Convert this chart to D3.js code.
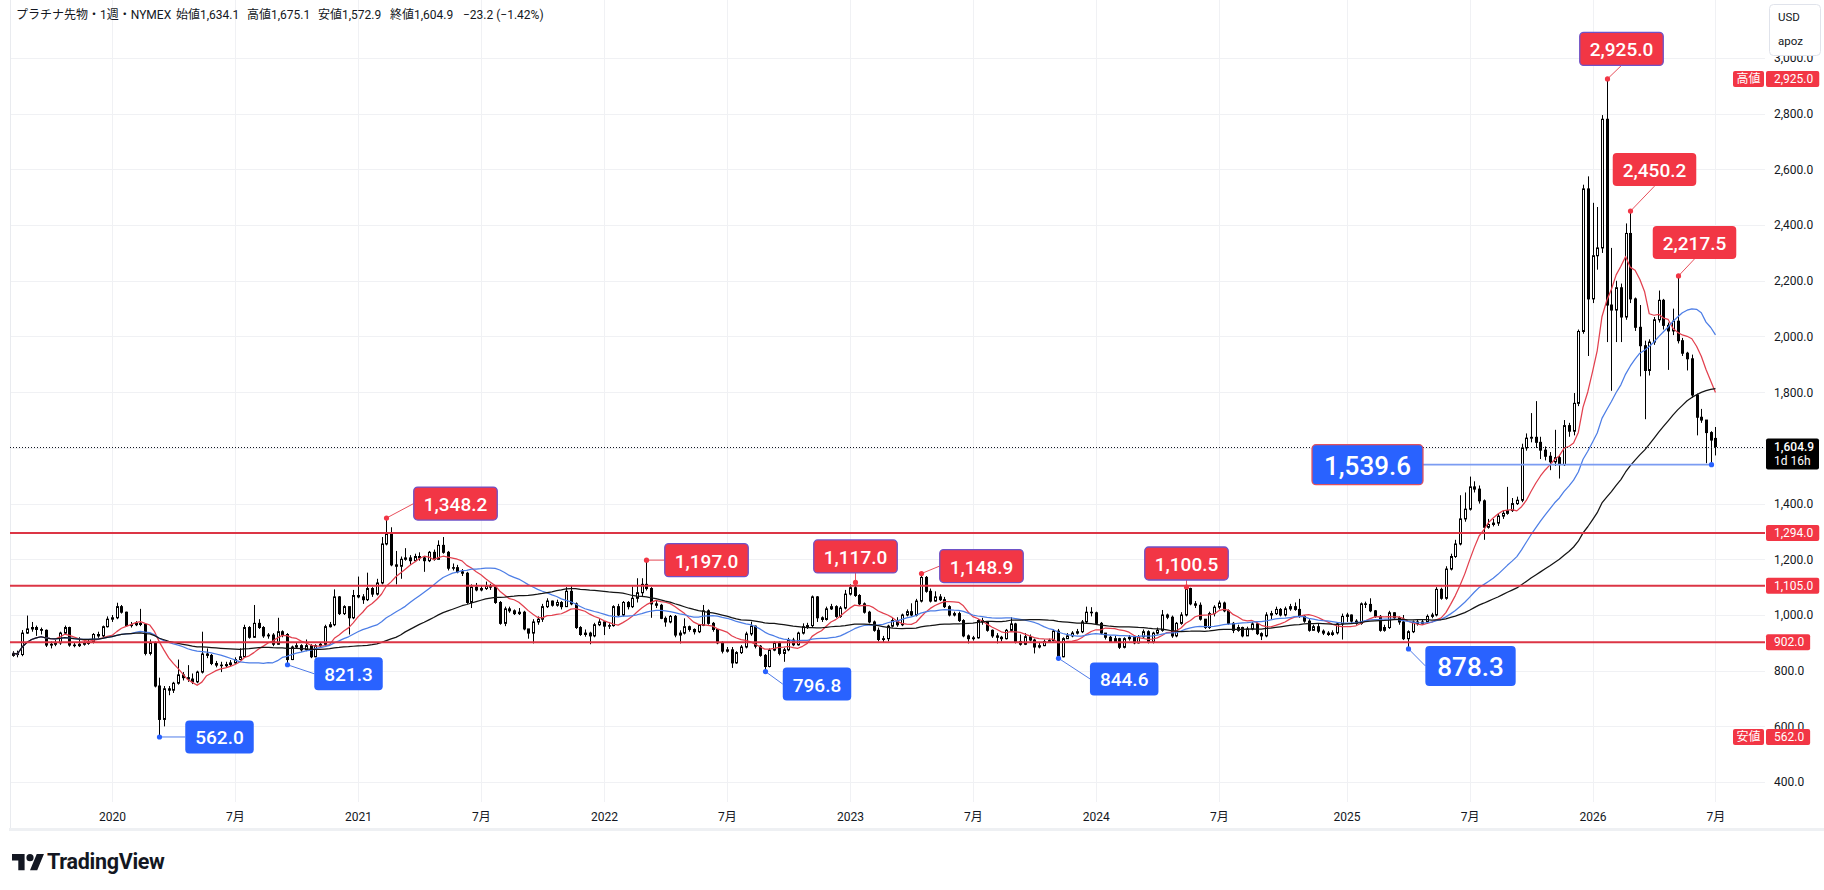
<!DOCTYPE html>
<html lang="ja"><head><meta charset="utf-8"><title>プラチナ先物</title>
<script src="https://cdn.jsdelivr.net/npm/d3@7/dist/d3.min.js"></script>
<style>
html,body{margin:0;padding:0;background:#ffffff;overflow:hidden;}
svg{display:block;font-family:Roboto,"Noto Sans CJK JP","Noto Sans",sans-serif;}
</style></head><body>
<svg id="chart" width="1824" height="890"></svg>
<script>
// ---------------- data (weekly bars, first bar week of 2019-08-12) ----------------
const firstBarDate = "2019-08-12";
const titleText = "プラチナ先物・1週・NYMEX";
const closes = [862,858,935,950,955,948,945,892,895,900,935,955,892,890,895,898,902,930,925,958,985,
 990,1030,1010,962,965,970,966,862,900,745,
 625,735,730,755,785,775,770,760,795,860,
 855,826,820,818,822,828,840,850,955,920,
 970,955,925,928,895,940,930,840,885,890,
 875,890,850,890,895,958,965,1065,1005,1030,
 990,1070,1065,1055,1095,1075,1115,1255,1290,1180,
 1175,1200,1205,1195,1210,1205,1195,1225,1200,1250,
 1225,1168,1170,1155,1150,1045,1100,1090,1095,1105,
 1100,1045,970,1022,1015,1005,1010,950,935,975,
 985,1030,1050,1035,1045,1030,1085,1040,955,930,
 935,925,965,975,960,962,1030,1000,1045,1030,
 1060,1080,1110,1095,1040,1035,988,975,995,928,
 935,958,948,940,963,1015,970,948,900,870,
 875,828,865,885,932,960,888,855,815,874,
 898,862,875,910,893,935,958,962,1065,990,
 984,1022,1030,995,1025,1075,1098,1070,1040,1010,
 975,945,912,915,960,980,965,1000,1012,1000,
 1050,1135,1085,1050,1065,1055,1030,1000,1005,980,
 925,915,918,980,975,945,925,920,915,945,
 968,905,895,922,910,885,890,905,908,942,
 850,915,925,935,940,975,1010,1008,970,935,
 920,905,915,884,915,920,900,922,940,902,
 935,945,1000,992,925,970,1000,1095,1040,1035,
 985,955,1005,1028,1043,1015,970,945,955,925,
 950,968,933,925,1000,1005,1020,1000,1022,1030,
 1020,995,978,945,958,942,935,930,936,968,
 995,1000,978,970,1040,1038,1015,995,945,955,
 1008,990,975,915,940,975,970,975,995,1000,
 1092,1060,1165,1210,1255,1345,1380,1460,1452,1410,
 1315,1325,1330,1355,1365,1375,1400,1412,1600,1635,
 1638,1620,1592,1570,1550,1565,1540,1680,1660,1760,
 2018,2530,2135,2290,2318,2780,2113,2095,2175,2070,
 2370,2135,2033,1967,1878,1980,2060,2130,2040,2020,
 2055,1985,1940,1920,1790,1710,1700,1655,1628.1,1604.9];
const highs = [870,872,946,998,975,962,955,948,905,910,940,962,958,900,920,905,910,935,940,962,995,
 1000,1044,1036,1012,975,978,1022,970,912,905,
 775,745,745,760,840,795,820,790,800,940,
 880,860,835,832,832,838,848,880,965,960,
 1036,985,960,935,935,990,945,935,890,900,
 895,912,895,895,900,965,975,1092,1068,1035,
 1030,1090,1138,1075,1152,1100,1130,1280,1348.2,1315,
 1230,1210,1240,1215,1220,1225,1210,1230,1235,1268,
 1280,1230,1185,1180,1165,1155,1110,1115,1105,1120,
 1112,1100,1050,1030,1030,1020,1025,1015,950,985,
 995,1040,1060,1052,1055,1050,1100,1105,1045,960,
 948,940,972,985,978,970,1035,1040,1050,1050,
 1102,1132,1132,1197,1100,1050,1040,995,1000,1000,
 945,988,962,952,968,1036,1020,975,950,905,
 885,885,870,892,940,976,962,892,860,880,
 905,905,882,918,918,940,970,972,1070,1068,
 995,1030,1040,1035,1032,1090,1110,1117,1075,1045,
 1015,980,955,925,965,990,992,1005,1020,1042,
 1058,1148.9,1140,1095,1085,1075,1065,1035,1012,1012,
 985,930,925,985,990,978,948,935,925,950,
 992,972,930,935,930,915,900,912,915,948,
 950,920,935,942,950,982,1030,1028,1012,975,
 935,925,925,918,920,928,922,928,948,945,
 940,955,1018,1005,998,975,1010,1100.5,1098,1050,
 1045,985,1012,1035,1052,1048,1020,975,965,958,
 958,975,972,938,1010,1015,1030,1025,1030,1040,
 1045,1058,1000,985,965,968,948,942,945,975,
 1005,1008,1002,985,1045,1048,1060,1018,1000,965,
 1015,1010,995,1000,945,980,985,982,1002,1008,
 1100,1098,1175,1220,1270,1430,1440,1497,1480,1465,
 1415,1345,1345,1365,1375,1460,1420,1425,1615,1652,
 1725,1768,1640,1605,1585,1665,1575,1700,1690,1797,
 2025,2545,2575,2480,2465,2795,2925,2318,2200,2190,
 2406,2450.2,2140,2113,1985,1990,2070,2165,2135,2050,
 2100,2217.5,1995,1945,1935,1795,1740,1700,1660,1675.1];
const lows = [850,848,852,932,940,925,930,885,880,888,893,930,886,884,885,890,893,898,918,920,955,
 975,985,1005,958,955,960,960,855,855,740,
 562,600,712,720,750,765,760,752,755,790,
 845,820,812,795,812,815,825,838,848,915,
 918,950,918,915,888,893,920,821.3,838,880,
 868,870,845,848,885,890,955,960,1000,1000,
 930,985,1060,1040,1050,1065,1070,1110,1250,1175,
 1110,1130,1195,1180,1190,1195,1155,1190,1195,1200,
 1220,1160,1160,1150,1140,1040,1025,1085,1085,1090,
 1090,1040,965,960,1008,1000,1000,945,915,898,
 965,975,1025,1030,1030,1020,1030,1035,950,925,
 922,895,920,960,928,950,958,995,995,1020,
 1025,1045,1065,1088,990,1025,985,958,970,920,
 898,930,940,930,935,960,965,940,895,862,
 865,810,825,860,880,925,880,850,796.8,812,
 870,855,832,870,888,890,930,950,955,975,
 975,980,1018,990,990,1020,1070,1065,1035,1005,
 970,940,905,902,905,955,958,960,995,995,
 995,1045,1080,1045,1048,1050,1025,995,995,975,
 920,898,908,915,965,940,918,898,905,912,
 940,898,890,892,905,862,880,888,900,905,
 844.6,848,915,920,930,935,970,995,965,930,
 912,900,905,878,880,908,895,898,918,898,
 898,930,940,985,918,920,965,995,1035,1025,
 980,950,950,995,1020,1010,965,935,940,920,
 925,945,928,910,920,985,1000,995,995,1015,
 1015,990,972,940,945,935,928,925,925,930,
 912,975,970,965,965,1025,1010,990,940,940,
 950,985,965,910,878.3,935,962,965,968,988,
 995,1055,1055,1160,1205,1250,1335,1375,1440,1400,
 1270,1310,1318,1320,1345,1360,1370,1395,1405,1590,
 1620,1600,1560,1555,1520,1535,1490,1535,1640,1645,
 1750,2010,1930,2120,2240,2300,1980,1805,1980,1980,
 2060,2120,2020,1857,1703,1860,1970,2050,2025,1880,
 2005,1975,1930,1878,1780,1645,1690,1545,1539.6,1572.9];
const firstOpen = 855.0;
const lastOpen = 1634.1;
const levels = [1294.0, 1105.0, 902.0];
const yTickValues = [400,600,800,1000,1200,1400,1600,1800,2000,2200,2400,2600,2800,3000];
const xTickLabels = ["2020","7月","2021","7月","2022","7月","2023","7月","2024","7月","2025","7月","2026","7月"];
const peakValues = [1348.2,1197.0,1117.0,1148.9,1100.5,2925.0,2450.2,2217.5];
const troughValues = [562.0,821.3,796.8,844.6,878.3,1539.6];
const maPeriods = [10,26,52];
const countdown = "1d 16h";
const unitLabels = ["USD","apoz"];
const highLowWords = ["高値","安値"];

// ---------------- layout / style (not data) ----------------
const W = 1824, H = 890;
const P = {l:10, r:1765, t:0, b:802};
const C = {text:"#131722", grid:"#f0f1f4", red:"#f23645", blue:"#2962ff", level:"#dc3545",
           ma:["#e2404e","#4d7ee6","#141414"], purple:"#6e52c8"};
const peakPlace = [
  {dx:69,dy:-14.5,a:"left",border:true},{dx:60,dy:0,a:"left",border:true},{dx:0,dy:-26,a:"bottom",border:true},
  {dx:60,dy:-7.5,a:"left",border:true},{dx:0,dy:-23.5,a:"bottom",border:true},{dx:14,dy:-30,a:"bottom",border:true},
  {dx:24,dy:-41.5,a:"bottom"},{dx:16,dy:-33.5,a:"bottom"}];
const troughPlace = [
  {dx:60,dy:0,a:"left"},{dx:61,dy:9,a:"left"},{dx:51.5,dy:12.5,a:"left"},{dx:65.7,dy:20.6,a:"left"},
  {dx:62,dy:17,a:"left",big:true},{dx:-344,dy:0,a:"right",big:true,border:true}];

// ---------------- build ----------------
const svg = d3.select("#chart");
const fmt = d3.format(",.1f");
const WEEK = 7*864e5;
const t0 = Date.parse(firstBarDate+"T00:00:00Z");
const N = closes.length;
const bars = closes.map((c,k)=>({k, date:new Date(t0+k*WEEK),
  open: k===0?firstOpen:(k===N-1?lastOpen:closes[k-1]), close:c, high:highs[k], low:lows[k]}));
const last = bars[N-1];

const x = d3.scaleUtc().domain([Date.UTC(2020,0,6), Date.UTC(2026,0,5)]).range([112,1592.5]);
const y = d3.scaleLinear().domain([400,3000]).range([782.1,58.0]);
const bx = d=>Math.round(x(d.date));

svg.append("rect").attr("width",W).attr("height",H).attr("fill","#fff");

// tick dates: first bar of January / July
const tickDates = bars.filter((b,k)=>k>0 && b.date.getUTCMonth()!==bars[k-1].date.getUTCMonth() && b.date.getUTCMonth()%6===0).map(b=>b.date);

// grid
const grid = svg.append("g");
grid.selectAll("line.hg").data(yTickValues).join("line").attr("class","hg")
  .attr("x1",P.l).attr("x2",P.r).attr("y1",d=>Math.round(y(d))+0.5).attr("y2",d=>Math.round(y(d))+0.5)
  .attr("stroke",C.grid).attr("stroke-width",1);
grid.selectAll("line.vg").data(tickDates).join("line").attr("class","vg")
  .attr("x1",d=>Math.round(x(d))+0.5).attr("x2",d=>Math.round(x(d))+0.5).attr("y1",P.t).attr("y2",P.b)
  .attr("stroke",C.grid).attr("stroke-width",1);
// left pane border
svg.append("line").attr("x1",P.l+0.5).attr("x2",P.l+0.5).attr("y1",0).attr("y2",829).attr("stroke","#e9ebef");

// clip
svg.append("defs").append("clipPath").attr("id","pc").append("rect")
  .attr("x",P.l+1).attr("y",P.t).attr("width",P.r-P.l-1).attr("height",P.b-P.t);
const cg = svg.append("g").attr("clip-path","url(#pc)");

// candles
cg.selectAll("line.wick").data(bars).join("line").attr("class","wick")
  .attr("x1",d=>bx(d)+0.5).attr("x2",d=>bx(d)+0.5).attr("y1",d=>y(d.high)).attr("y2",d=>y(d.low))
  .attr("stroke","#000").attr("stroke-width",1);
cg.selectAll("rect.body").data(bars).join("rect").attr("class","body")
  .each(function(d){
    const up = d.close>=d.open;
    const yt = y(Math.max(d.open,d.close)), yb = y(Math.min(d.open,d.close));
    const s = d3.select(this);
    if(up){
      s.attr("x",bx(d)-0.5).attr("y",yt).attr("width",2).attr("height",Math.max(0.5,yb-yt))
       .attr("fill","#fff").attr("stroke","#000").attr("stroke-width",1);
    } else {
      s.attr("x",bx(d)-1).attr("y",yt-0.5).attr("width",3).attr("height",Math.max(1,yb-yt+1)).attr("fill","#000");
    }
  });

// moving averages
function sma(n){ return closes.map((c,k)=>d3.mean(closes.slice(Math.max(0,k-n+1),k+1))); }
maPeriods.forEach((n,j)=>{
  const v = sma(n);
  cg.append("path").datum(bars)
    .attr("d", d3.line().x(d=>x(d.date)).y(d=>y(v[d.k])))
    .attr("fill","none").attr("stroke",C.ma[j]).attr("stroke-width",1.25).attr("stroke-linejoin","round");
});

// horizontal levels
svg.selectAll("line.lvl").data(levels).join("line").attr("class","lvl")
  .attr("x1",P.l).attr("x2",P.r).attr("y1",d=>y(d)).attr("y2",d=>y(d))
  .attr("stroke",C.level).attr("stroke-width",2);

// last price dotted line
svg.append("line").attr("x1",P.l).attr("x2",P.r).attr("y1",Math.round(y(last.close))+0.5).attr("y2",Math.round(y(last.close))+0.5)
  .attr("stroke","#131722").attr("stroke-width",1).attr("stroke-dasharray","1,2");

// annotations
const ag = svg.append("g");
function annotate(value, series, place, fill, lineColor){
  const k = series.indexOf(value);
  const b = bars[k];
  const px = bx(b)+0.5, py = y(value);
  const fs = place.big?26:19, pad = place.big?12:10, bh = place.big?40:33;
  const g = ag.append("g");
  const t = g.append("text").attr("font-size",fs).attr("font-weight",500).attr("fill","#fff")
     .attr("text-anchor","middle").attr("dominant-baseline","central").text(fmt(value));
  const tw = t.node().getComputedTextLength();
  const bw = tw + 2*pad;
  const cx = px+place.dx, cy = py+place.dy;
  let ax, ay;
  if(place.a==="left"){ ax = cx-bw/2; ay = cy; }
  else if(place.a==="right"){ ax = cx+bw/2; ay = cy; }
  else { ax = cx; ay = cy+bh/2; }
  g.insert("line","text").attr("x1",px).attr("y1",py).attr("x2",ax).attr("y2",ay)
    .attr("stroke",lineColor).attr("stroke-width",place.big&&place.a==="right"?1.8:1);
  g.insert("circle","text").attr("cx",px).attr("cy",py).attr("r",2.6).attr("fill",fill);
  g.insert("rect","text").attr("x",cx-bw/2).attr("y",cy-bh/2).attr("width",bw).attr("height",bh).attr("rx",4)
    .attr("fill",fill).attr("stroke",place.border?(fill===C.red?C.purple:"#e0505e"):"none").attr("stroke-width",1.3);
  t.attr("x",cx).attr("y",cy+1);
}
peakValues.forEach((v,i)=>annotate(v, highs, peakPlace[i], C.red, "#e8505c"));
troughValues.forEach((v,i)=>annotate(v, lows, troughPlace[i], C.blue, i===5?"#7b9cf2":"#4f7be8"));

// ---------------- axes ----------------
const lastY = y(last.close);
const yLabelTicks = yTickValues.filter(t=>Math.abs(y(t)-lastY)>16);
const yAxis = svg.append("g").attr("transform",`translate(${P.r},0)`)
  .call(d3.axisRight(y).tickValues(yLabelTicks).tickFormat(fmt).tickSize(0).tickPadding(9));
yAxis.select(".domain").remove();
yAxis.selectAll("text").attr("font-size",12).attr("fill",C.text).attr("font-family","Roboto,'Noto Sans CJK JP',sans-serif");

const xAxis = svg.append("g").attr("transform",`translate(0,${P.b})`)
  .call(d3.axisBottom(x).tickValues(tickDates).tickFormat((d,i)=>xTickLabels[i]).tickSize(0).tickPadding(10));
xAxis.select(".domain").remove();
xAxis.selectAll("text").attr("font-size",12).attr("fill",C.text).attr("font-family","Roboto,'Noto Sans CJK JP',sans-serif");

// axis tags
function tag(value, label, fill, tagH){
  const g = svg.append("g");
  const t = g.append("text").attr("x",P.r+9).attr("y",y(value)).attr("dominant-baseline","central")
    .attr("font-size",12).attr("fill","#fff").text(label);
  const tw = t.node().getComputedTextLength();
  g.insert("rect","text").attr("x",P.r+1).attr("y",y(value)-tagH/2).attr("width",tw+14).attr("height",tagH)
    .attr("rx",2).attr("fill",fill);
  return g;
}
levels.forEach(v=>tag(v, fmt(v), C.red, 16));
const hi = d3.max(highs), lo = d3.min(lows);
[[hi,highLowWords[0]],[lo,highLowWords[1]]].forEach(([v,w])=>{
  tag(v, fmt(v), C.red, 16);
  const g = svg.append("g");
  g.append("rect").attr("x",P.r-32).attr("y",y(v)-8).attr("width",31).attr("height",16).attr("rx",2).attr("fill",C.red);
  g.append("text").attr("x",P.r-16.5).attr("y",y(v)).attr("dominant-baseline","central").attr("text-anchor","middle")
    .attr("font-size",12).attr("fill","#fff").text(w);
});
// current price tag
{
  const g = svg.append("g");
  g.append("rect").attr("x",P.r+1).attr("y",lastY-8).attr("width",53).attr("height",31).attr("rx",2).attr("fill","#000");
  g.append("text").attr("x",P.r+9).attr("y",lastY).attr("dominant-baseline","central").attr("font-size",12)
    .attr("font-weight",500).attr("fill","#fff").text(fmt(last.close));
  g.append("text").attr("x",P.r+9).attr("y",lastY+14.5).attr("dominant-baseline","central").attr("font-size",12)
    .attr("fill","#fff").text(countdown);
}
// unit box
{
  const g = svg.append("g");
  g.append("rect").attr("x",1769.5).attr("y",4.5).attr("width",51).attr("height",51).attr("rx",4)
    .attr("fill","#fff").attr("stroke","#e0e3eb");
  unitLabels.forEach((s,i)=>g.append("text").attr("x",1778).attr("y",17+i*24).attr("dominant-baseline","central")
    .attr("font-size",11.5).attr("fill",C.text).text(s));
}

// header legend
{
  const prev = closes[N-2];
  const chg = last.close - prev;
  const minus = v=> (v<0?"\u2212":"") + Math.abs(v).toFixed(v===chg?1:2);
  const parts = [titleText, "始値"+fmt(last.open), "高値"+fmt(last.high), "安値"+fmt(last.low), "終値"+fmt(last.close),
    minus(chg)+" ("+minus(chg/prev*100)+"%)"];
  const xs = [16,176,247,318,390,463];
  const t = svg.append("text").attr("y",19).attr("font-size",12).attr("fill",C.text);
  parts.forEach((p,i)=>t.append("tspan").attr("x",xs[i]).text(p));
}

// bottom separator + logo
svg.append("rect").attr("x",9).attr("y",828).attr("width",W-9).attr("height",3).attr("fill","#eef0f3");
{
  const g = svg.append("g").attr("transform","translate(12,850.5) scale(0.9)");
  g.append("path").attr("d","M14 22H7V11H0V4h14v18zM28 22h-8l7.5-18h8L28 22z").attr("fill",C.text);
  g.append("circle").attr("cx",20).attr("cy",8).attr("r",4).attr("fill",C.text);
  svg.append("text").attr("x",47).attr("y",869).attr("font-size",21.5).attr("font-weight",700)
    .attr("fill",C.text).attr("letter-spacing","-0.3").text("TradingView");
}
</script>
</body></html>
